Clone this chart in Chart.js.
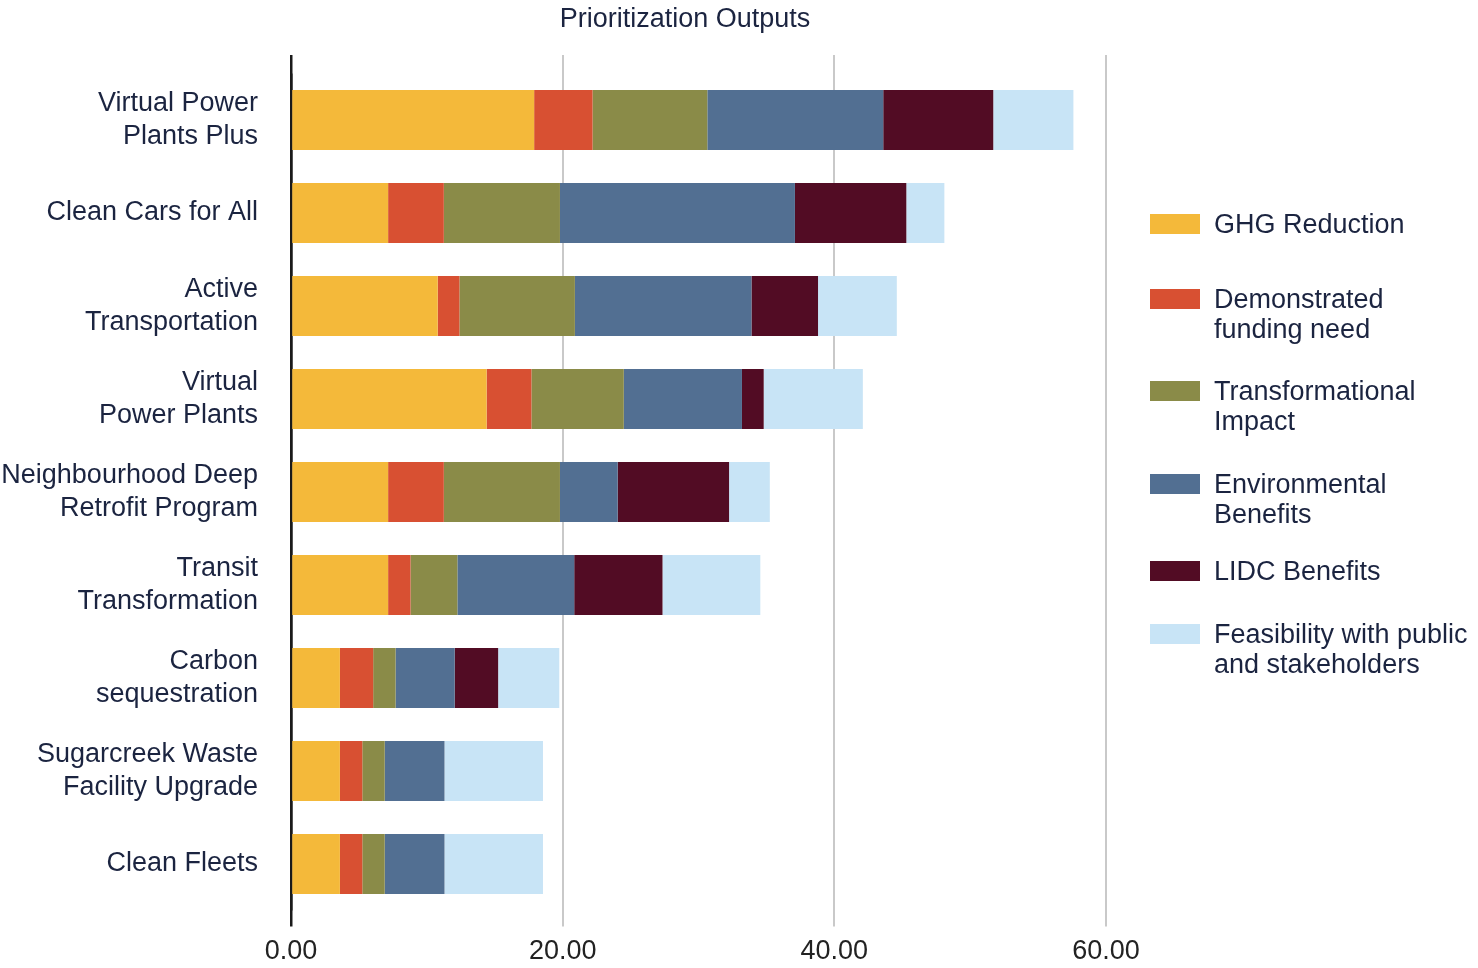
<!DOCTYPE html>
<html>
<head>
<meta charset="utf-8">
<title>Prioritization Outputs</title>
<script src="https://cdn.jsdelivr.net/npm/chart.js@4.4.1/dist/chart.umd.min.js"></script>
<style>
  body { margin: 0; background: #fff; font-family: "Liberation Sans", Arial, sans-serif; overflow: hidden; }
  #wrap { position: relative; width: 1478px; height: 968px; }
  #barChart { position: absolute; left: 0; top: 0; }
  #title { position: absolute; left: 0; top: 2px; width: 1370px; text-align: center;
           font-size: 27px; line-height: 32px; color: #1b2440; }
  #legend { position: absolute; left: 1150px; top: 0; }
  .item { position: absolute; left: 0; width: 330px; }
  .swatch { position: absolute; left: 0; width: 50px; height: 20px; }
  .label { position: absolute; left: 64px; font-size: 27px; line-height: 30px; color: #1b2440; white-space: nowrap; }
</style>
</head>
<body>
<div id="wrap">
  <canvas id="barChart" width="1478" height="968"></canvas>
  <div id="title">Prioritization Outputs</div>
  <div id="legend"></div>
</div>
<script>
// ------------PRIORITIZATION OUTPUTS------------------ //

var projects = [
    ["Virtual Power", "Plants Plus"],
    ["Clean Cars for All"],
    ["Active", "Transportation"],
    ["Virtual", "Power Plants"],
    ["Neighbourhood Deep", "Retrofit Program"],
    ["Transit", "Transformation"],
    ["Carbon", "sequestration"],
    ["Sugarcreek Waste", "Facility Upgrade"],
    ["Clean Fleets"]
];

var ghgReduction     = [17.9, 7.15, 10.8, 14.4, 7.15, 7.15, 3.6, 3.6, 3.6];
var fundingNeed      = [4.3, 4.1, 1.6, 3.3, 4.1, 1.65, 2.45, 1.65, 1.65];
var transformational = [8.45, 8.55, 8.5, 6.8, 8.55, 3.45, 1.65, 1.65, 1.65];
var environmental    = [12.95, 17.3, 13.0, 8.7, 4.25, 8.6, 4.35, 4.4, 4.4];
var lidcBenefits     = [8.1, 8.2, 4.9, 1.6, 8.2, 6.5, 3.2, 0, 0];
var feasibility      = [5.9, 2.8, 5.8, 7.3, 3.0, 7.2, 4.5, 7.25, 7.25];

var seriesNames = [
    ["GHG Reduction"],
    ["Demonstrated", "funding need"],
    ["Transformational", "Impact"],
    ["Environmental", "Benefits"],
    ["LIDC Benefits"],
    ["Feasibility with public", "and stakeholders"]
];
var seriesData = [ghgReduction, fundingNeed, transformational, environmental, lidcBenefits, feasibility];
var seriesColors = [
    'rgb(244, 185, 58)',
    'rgb(216, 80, 50)',
    'rgb(138, 139, 72)',
    'rgb(82, 111, 146)',
    'rgb(82, 12, 36)',
    'rgb(200, 228, 246)'
];

var xTicks = { min: 0, max: 60, step: 20 };

// legend item tops (first line centred on the swatch)
var legendTops = [209, 284, 376, 469, 556, 619];

Chart.defaults.font.family = '"Liberation Sans", Arial, sans-serif';

var datasets = seriesData.map(function (d, i) {
    return {
        label: seriesNames[i].join(' '),
        data: d,
        backgroundColor: seriesColors[i],
        borderWidth: 0,
        barPercentage: 0.645,
        categoryPercentage: 1.0
    };
});

function gridColor(ctx) {
    return ctx.tick && ctx.tick.value === 0 ? '#1a1a1a' : '#c9c9c9';
}
function gridWidth(ctx) {
    return ctx.tick && ctx.tick.value === 0 ? 2.5 : 2;
}

new Chart("barChart", {
    type: "bar",
    data: {
        labels: projects,
        datasets: datasets
    },
    options: {
        indexAxis: 'y',
        responsive: false,
        animation: false,
        layout: { padding: { top: 55, right: 372, bottom: 0, left: 0 } },
        plugins: {
            legend: { display: false },
            title: { display: false },
            tooltip: { enabled: false }
        },
        scales: {
            x: {
                stacked: true,
                min: xTicks.min,
                max: xTicks.max,
                border: { display: false },
                grid: { color: gridColor, lineWidth: gridWidth, drawTicks: true, tickLength: 16 },
                ticks: {
                    stepSize: xTicks.step,
                    padding: 12,
                    color: '#222',
                    font: { size: 27, lineHeight: 1.0 },
                    callback: function (v) { return Number(v).toFixed(2); }
                },
                afterFit: function (scale) { scale.height = 57.5; }
            },
            x2: {
                position: 'top',
                min: xTicks.min,
                max: xTicks.max,
                border: { display: false },
                grid: { color: gridColor, lineWidth: gridWidth, drawTicks: true, tickLength: 18.5 },
                ticks: { stepSize: xTicks.step, display: false }
            },
            y: {
                stacked: true,
                border: { display: false },
                grid: { display: false, drawTicks: true, tickLength: 33 },
                ticks: {
                    padding: 0,
                    color: '#1b2440',
                    font: { size: 27, lineHeight: 1.22 },
                    autoSkip: false
                },
                afterFit: function (scale) { scale.width = 291; }
            }
        }
    }
});

// ------------LEGEND------------------ //
var legend = document.getElementById('legend');
seriesNames.forEach(function (name, i) {
    var item = document.createElement('div');
    item.className = 'item';
    item.style.top = legendTops[i] + 'px';
    var sw = document.createElement('div');
    sw.className = 'swatch';
    sw.style.top = '5px';
    sw.style.background = seriesColors[i];
    var lab = document.createElement('div');
    lab.className = 'label';
    lab.innerHTML = name.join('<br>');
    item.appendChild(sw);
    item.appendChild(lab);
    legend.appendChild(item);
});
</script>
</body>
</html>
